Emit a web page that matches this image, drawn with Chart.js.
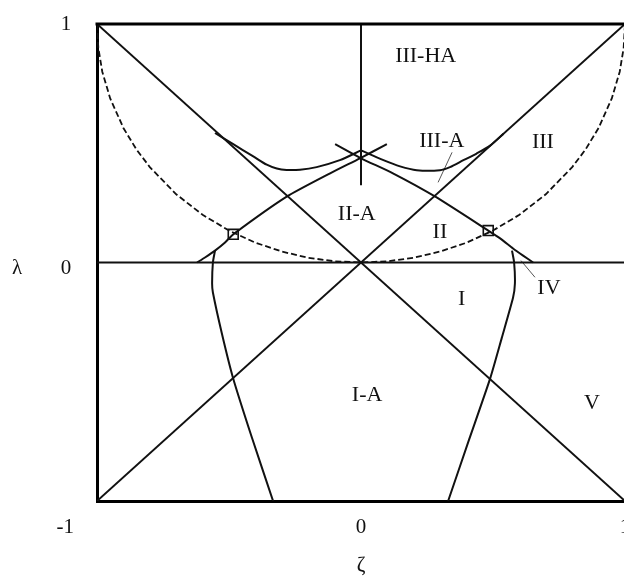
<!DOCTYPE html>
<html>
<head>
<meta charset="utf-8">
<title>ζ–λ regime map</title>
<script src="https://cdn.jsdelivr.net/npm/chart.js@4"></script>
<style>
  html, body { margin: 0; padding: 0; background: #fff; overflow: hidden; }
  #regimeChart { display: block; }
</style>
</head>
<body>
<canvas id="regimeChart" width="700" height="582"></canvas>
<script>
// --- DATA ---

const xTickValues = [-1, 0, 1];
const yTickValues = [0, 1];

// straight boundaries
const diagDown = [{ x: -1, y: 1 }, { x: 1, y: -1 }];
const diagUp = [{ x: -1, y: -1 }, { x: 1, y: 1 }];
const zeroLine = [{ x: -1, y: 0 }, { x: 1, y: 0 }];
const midStem = [{ x: 0, y: 1 }, { x: 0, y: 0.324 }];

// dashed arc, corner to corner through the origin
const arcX = [-1, -0.995, -0.98, -0.95, -0.9, -0.85, -0.8, -0.7, -0.6, -0.5, -0.4, -0.3, -0.2, -0.1, 0,
              0.1, 0.2, 0.3, 0.4, 0.5, 0.6, 0.7, 0.8, 0.85, 0.9, 0.95, 0.98, 0.995, 1];
const arcY = [1, 0.9, 0.8, 0.688, 0.564, 0.473, 0.4, 0.286, 0.2, 0.134, 0.083, 0.046, 0.02, 0.005, 0,
              0.005, 0.02, 0.046, 0.083, 0.134, 0.2, 0.286, 0.4, 0.473, 0.564, 0.688, 0.8, 0.9, 1];

// III / III-A boundary, left and right halves
const upperLeftX = [-0.553, -0.484, -0.408, -0.357, -0.319, -0.282, -0.231, -0.168, -0.080, 0];
const upperLeftY = [0.543, 0.496, 0.445, 0.410, 0.394, 0.388, 0.389, 0.400, 0.429, 0.47];
const upperRightX = [0, 0.085, 0.148, 0.211, 0.299, 0.337, 0.388, 0.438, 0.489, 0.54];
const upperRightY = [0.47, 0.429, 0.403, 0.387, 0.387, 0.400, 0.429, 0.457, 0.490, 0.54];

// II-A boundaries crossing just under the stem
const riseLeftX = [-0.621, -0.591, -0.553, -0.515, -0.484, -0.280, -0.117, -0.004, 0.098];
const riseLeftY = [0, 0.021, 0.050, 0.084, 0.118, 0.277, 0.374, 0.437, 0.496];
const riseRightX = [0.652, 0.614, 0.576, 0.527, 0.482, 0.280, 0.121, 0, -0.098];
const riseRightY = [0, 0.029, 0.059, 0.101, 0.134, 0.277, 0.374, 0.437, 0.496];

// I-A side boundaries
const sideLeftX = [-0.553, -0.561, -0.564, -0.561, -0.527, -0.485, -0.413, -0.333];
const sideLeftY = [0.050, 0, -0.088, -0.126, -0.298, -0.483, -0.735, -1];
const sideRightX = [0.572, 0.580, 0.583, 0.576, 0.533, 0.489, 0.409, 0.330];
const sideRightY = [0.050, 0, -0.088, -0.147, -0.317, -0.487, -0.744, -1];

// transition points
const markX = [-0.484, 0.482];
const markY = [0.118, 0.134];

// leader lines for the narrow regions
const leaderIIIA = [{ x: 0.345, y: 0.462 }, { x: 0.292, y: 0.336 }];
const leaderIV = [{ x: 0.606, y: 0.008 }, { x: 0.659, y: -0.062 }];

// region names and where they sit
const regionNames = ['III-HA', 'III-A', 'III', 'II-A', 'II', 'I', 'IV', 'I-A', 'V'];
const regionX = [0.245, 0.306, 0.689, -0.016, 0.299, 0.381, 0.712, 0.023, 0.875];
const regionY = [0.866, 0.508, 0.504, 0.202, 0.128, -0.155, -0.109, -0.555, -0.592];

// --- HELPERS ---

const SERIF = '"Liberation Serif", "Times New Roman", serif';
const INK = '#111';

function zipPoints(xs, ys) {
    return xs.map((x, i) => ({ x: x, y: ys[i] }));
}

function curve(points, extra) {
    return Object.assign({
        data: points,
        showLine: true,
        borderColor: INK,
        borderWidth: 2,
        pointRadius: 0,
        tension: 0,
        fill: false
    }, extra || {});
}

// top frame edge, tick labels, region names and the λ axis name
const overlayPlugin = {
    id: 'overlay',
    afterDatasetsDraw(chart) {
        const { ctx, chartArea, scales } = chart;
        ctx.save();

        ctx.strokeStyle = '#000';
        ctx.lineWidth = 3;
        ctx.beginPath();
        ctx.moveTo(chartArea.left - 1.5, chartArea.top);
        ctx.lineTo(chartArea.right + 2, chartArea.top);
        ctx.stroke();

        ctx.fillStyle = '#111';
        ctx.font = '21px ' + SERIF;
        ctx.textBaseline = 'middle';

        // the -1 sits out past the corner, right-aligned
        const tickY = chartArea.bottom + 26;
        xTickValues.forEach(v => {
            const px = scales.x.getPixelForValue(v);
            if (v === xTickValues[0]) {
                ctx.textAlign = 'right';
                ctx.fillText(String(v), px - 23, tickY);
            } else {
                ctx.textAlign = 'center';
                ctx.fillText(String(v), px, tickY);
            }
        });

        ctx.textAlign = 'center';
        yTickValues.forEach(v => {
            const py = scales.y.getPixelForValue(v);
            ctx.fillText(String(v), chartArea.left - 31, v === 0 ? py + 6 : py);
        });

        ctx.fillText('λ', chartArea.left - 80, scales.y.getPixelForValue(0) + 6);

        ctx.font = '22px ' + SERIF;
        regionNames.forEach((name, i) => {
            ctx.fillText(name, scales.x.getPixelForValue(regionX[i]), scales.y.getPixelForValue(regionY[i]));
        });

        ctx.restore();
    }
};

// --- CHART ---

const datasets = [
    curve(zipPoints(arcX, arcY), { borderWidth: 1.8, borderDash: [6, 3] }),
    curve(diagDown),
    curve(diagUp),
    curve(zeroLine),
    curve(midStem),
    curve(zipPoints(upperLeftX, upperLeftY), { tension: 0.25 }),
    curve(zipPoints(upperRightX, upperRightY), { tension: 0.25 }),
    curve(zipPoints(riseLeftX, riseLeftY), { tension: 0.2 }),
    curve(zipPoints(riseRightX, riseRightY), { tension: 0.2 }),
    curve(zipPoints(sideLeftX, sideLeftY), { tension: 0.2 }),
    curve(zipPoints(sideRightX, sideRightY), { tension: 0.2 }),
    curve(leaderIIIA, { borderColor: '#555', borderWidth: 1 }),
    curve(leaderIV, { borderColor: '#555', borderWidth: 1 }),
    {
        data: zipPoints(markX, markY),
        showLine: false,
        pointStyle: 'rect',
        pointRadius: 7,
        borderColor: INK,
        borderWidth: 1.6,
        backgroundColor: '#fff'
    }
];

new Chart(document.getElementById('regimeChart'), {
    type: 'scatter',
    data: { datasets: datasets },
    options: {
        responsive: false,
        animation: false,
        layout: { padding: { top: 24, right: 75, left: 0, bottom: 0 } },
        plugins: { legend: { display: false }, tooltip: { enabled: false } },
        scales: {
            x: {
                type: 'linear', min: -1, max: 1,
                afterBuildTicks: s => { s.ticks = xTickValues.map(v => ({ value: v })); },
                afterFit: s => { s.height = 81; },
                grid: { display: false, drawTicks: false },
                border: { display: true, width: 3, color: '#000' },
                ticks: { display: false },
                title: {
                    display: true, text: 'ζ', color: '#111',
                    font: { family: SERIF, size: 21 },
                    padding: { top: 15, bottom: 4 }
                }
            },
            y: {
                type: 'linear', min: -1, max: 1,
                afterBuildTicks: s => { s.ticks = yTickValues.map(v => ({ value: v })); },
                afterFit: s => { s.width = 97; },
                grid: { display: false, drawTicks: false },
                border: { display: true, width: 3, color: '#000' },
                ticks: { display: false }
            }
        }
    },
    plugins: [overlayPlugin]
});
</script>
</body>
</html>
